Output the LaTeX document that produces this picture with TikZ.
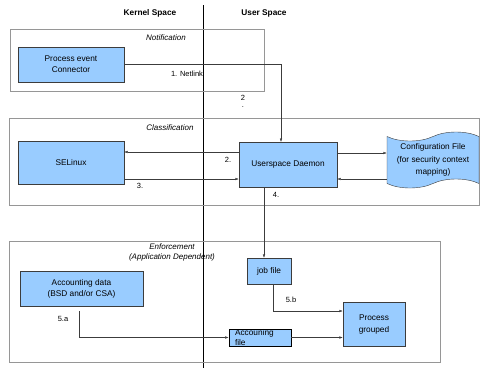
\documentclass[tikz,border=0pt]{standalone}
\usepackage{fontspec}
\setmainfont{Liberation Sans}
\usetikzlibrary{calc,arrows.meta,shapes.symbols}
\definecolor{boxblue}{RGB}{153,204,255}
\definecolor{edgegray}{RGB}{60,60,60}
\definecolor{framegray}{RGB}{150,150,150}

\begin{document}
\begin{tikzpicture}[x=1pt,y=-1pt,
  font=\fontsize{8.3}{11}\selectfont,
  blk/.style={draw=edgegray,fill=boxblue,align=center,inner sep=1pt},
  arr/.style={draw=edgegray,-{Latex[length=3.5pt,width=2.5pt]}},
  frame/.style={draw=framegray},
  grp/.style={font=\fontsize{8}{10}\selectfont\itshape,align=center}]
\useasboundingbox (0,0) rectangle (480,368);

% Kernel / user split
\draw (203,5) -- (203,368);
\node[font=\fontsize{8.3}{10}\selectfont\bfseries] (kern) at (150,13) {Kernel Space};
\node[font=\fontsize{8.3}{10}\selectfont\bfseries] (user) at (264,13) {User Space};

% Group frames
\draw[frame] (10,29) rectangle (264,91);
\draw[frame] (9,118) rectangle (479,205);
\draw[frame] (9,241) rectangle (440,362);

\node[grp] (notif) at (166,38) {Notification};
\node[grp] (classif) at (170,128) {Classification};
\node[grp] (enforce) at (172,252) {Enforcement\\(Application Dependent)};

% Boxes
\node[blk,minimum width=106,minimum height=35] (proc) at (71,64.5) {Process event\\Connector};
\node[blk,minimum width=106,minimum height=43] (selinux) at (71,162.5) {SELinux};
\node[blk,minimum width=98,minimum height=45] (daemon) at (288,164.5) {Userspace Daemon};
\node[tape,draw=edgegray,fill=boxblue,align=center,inner sep=1pt,tape bend height=9pt,
      minimum width=92,minimum height=56,font=\fontsize{8.3}{12.5}\selectfont] (config) at (433,160)
      {Configuration File\\(for security context\\mapping)};
\node[blk,minimum width=123,minimum height=35] (acct) at (81.5,288.5) {Accounting data\\(BSD and/or CSA)};
\node[blk,minimum width=44,minimum height=26] (jobfile) at (269,271) {job file};
\node[blk,draw=black,line width=0.8pt,minimum width=62,minimum height=17,inner sep=0pt,
      text width=50,align=left,font=\fontsize{8.3}{10}\selectfont] (accfile) at (260,337.5) {Accouning\\file};
\node[blk,minimum width=62,minimum height=44,font=\fontsize{8.3}{12}\selectfont] (grouped) at (374,324) {Process\\grouped};

% Connectors
\coordinate (netdown) at (281,142);
\draw[arr] (proc.east) -| (netdown);
\draw[arr] ($(daemon.west)+(0,-12.5)$) -- ($(selinux.east)+(0,-10.5)$);
\draw[arr] ($(selinux.east)+(0,16.5)$) -- ($(daemon.west)+(0,14.5)$);
\draw[arr] ($(daemon.east)+(0,-11.5)$) -- ($(config.west)+(0,-7)$);
\draw[arr] ($(config.west)+(0,19)$) -- ($(daemon.east)+(0,14.5)$);
\draw[arr] ($(daemon.south)+(-24,0)$) -- ($(jobfile.north)+(-5,0)$);
\draw[arr] ($(jobfile.south)+(4,0)$) |- ($(grouped.west)+(0,-13)$);
\coordinate (fivea) at (79,311);
\draw[arr] (fivea) |- (accfile.west);
\draw[arr] (accfile.east) -- (accfile.east -| grouped.west);

% Labels
\node[font=\fontsize{7.5}{9}\selectfont] (lnet) at (187,74) {1. Netlink};
\node[font=\fontsize{7.5}{9}\selectfont] (ltwo) at (243,98) {2};
\node[font=\fontsize{7.5}{9}\selectfont] (ldot) at (243,107) {.};
\node[font=\fontsize{7.5}{9}\selectfont] (ltwob) at (228,160) {2.};
\node[font=\fontsize{7.5}{9}\selectfont] (lthree) at (140,186) {3.};
\node[font=\fontsize{7.5}{9}\selectfont] (lfour) at (276,195) {4.};
\node[font=\fontsize{7.5}{9}\selectfont] (lfivea) at (63,319) {5.a};
\node[font=\fontsize{7.5}{9}\selectfont] (lfiveb) at (291,300) {5.b};
\end{tikzpicture}
\end{document}
